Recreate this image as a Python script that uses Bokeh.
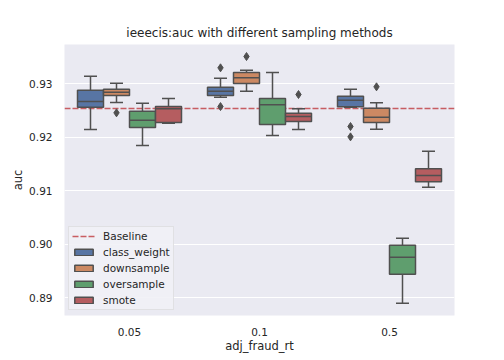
from bokeh.plotting import figure
from bokeh.models import (ColumnDataSource, FactorRange, Range1d, FixedTicker, Legend, LegendItem,
                          NumeralTickFormatter)
from bokeh.transform import dodge
from bokeh.embed import file_html
from bokeh.resources import INLINE

rates = ["0.05", "0.1", "0.5"]
methods = ["class_weight", "downsample", "oversample", "smote"]
colors = ["#5875A4", "#CC8963", "#5F9E6E", "#B55D60"]
baseline = 0.92538

# per-method box statistics, one value per rate
cw_lo = [0.92146, 0.92750, 0.92560]
cw_q1 = [0.92563, 0.92781, 0.92570]
cw_med = [0.92669, 0.92862, 0.92693]
cw_q3 = [0.92880, 0.92937, 0.92768]
cw_hi = [0.93142, 0.93105, 0.92899]

ds_lo = [0.92650, 0.92862, 0.92152]
ds_q1 = [0.92781, 0.93006, 0.92277]
ds_med = [0.92843, 0.93112, 0.92376]
ds_q3 = [0.92899, 0.93211, 0.92544]
ds_hi = [0.93012, 0.93254, 0.92645]

os_lo = [0.91847, 0.92034, 0.88899]
os_q1 = [0.92183, 0.92239, 0.89441]
os_med = [0.92320, 0.92607, 0.89759]
os_q3 = [0.92488, 0.92725, 0.89983]
os_hi = [0.92638, 0.93211, 0.90114]

sm_lo = [0.92264, 0.92146, 0.91068]
sm_q1 = [0.92277, 0.92295, 0.91168]
sm_med = [0.92533, 0.92389, 0.91286]
sm_q3 = [0.92575, 0.92450, 0.91411]
sm_hi = [0.92725, 0.92533, 0.91740]

# outliers
out_rate = ["0.05", "0.1", "0.1", "0.1", "0.1", "0.5", "0.5", "0.5"]
out_method = ["downsample", "class_weight", "class_weight", "downsample", "smote",
              "class_weight", "class_weight", "downsample"]
out_value = [0.92458, 0.93299, 0.92575, 0.93510, 0.92800, 0.92202, 0.92009, 0.92944]

yticks = [0.89, 0.90, 0.91, 0.92, 0.93]

stats = {
    "class_weight": (cw_lo, cw_q1, cw_med, cw_q3, cw_hi),
    "downsample": (ds_lo, ds_q1, ds_med, ds_q3, ds_hi),
    "oversample": (os_lo, os_q1, os_med, os_q3, os_hi),
    "smote": (sm_lo, sm_q1, sm_med, sm_q3, sm_hi),
}
offsets = [-0.3, -0.1, 0.1, 0.3]
box_w = 0.2
cap_half = 0.05
gray = "#505050"
font = "DejaVu Sans"
txt = "#262626"

p = figure(x_range=FactorRange(*rates, range_padding=0), y_range=Range1d(0.8867, 0.93735),
           width=504, height=360, output_backend="svg", toolbar_location=None,
           title="ieeecis:auc with different sampling methods",
           min_border_left=64, min_border_right=50, min_border_top=44, min_border_bottom=45)
p.background_fill_color = "#EAEAF2"
p.border_fill_color = "white"
p.outline_line_color = None
p.xgrid.grid_line_color = None
p.ygrid.grid_line_color = "white"
p.ygrid.grid_line_width = 1.2
p.yaxis.ticker = FixedTicker(ticks=yticks)
p.yaxis.formatter = NumeralTickFormatter(format="0.00")
for ax in (p.xaxis, p.yaxis):
    ax.axis_line_color = None
    ax.major_tick_line_color = None
    ax.minor_tick_line_color = None
    ax.major_label_text_font = font
    ax.major_label_text_font_size = "10.5px"
    ax.major_label_text_color = txt
    ax.axis_label_text_font = font
    ax.axis_label_text_font_size = "11.5px"
    ax.axis_label_text_font_style = "normal"
    ax.axis_label_text_color = txt
p.xaxis.axis_label = "adj_fraud_rt"
p.yaxis.axis_label = "auc"
p.xaxis.major_label_standoff = 6
p.yaxis.major_label_standoff = 6
p.xaxis.axis_label_standoff = 0
p.yaxis.axis_label_standoff = 1
p.title.text_font = font
p.title.text_font_size = "12px"
p.title.text_font_style = "normal"
p.title.text_color = txt
p.title.align = "center"

base_r = p.hspan(y=[baseline], line_color="#C44E52", line_dash="6 2", line_width=1.5, line_alpha=0.9)

box_renderers = []
for m, off, col in zip(methods, offsets, colors):
    lo, q1, med, q3, hi = stats[m]
    src = ColumnDataSource(dict(x=rates, lo=lo, q1=q1, med=med, q3=q3, hi=hi))
    xc = dodge("x", off, range=p.x_range)
    p.segment(x0=xc, y0="q3", x1=xc, y1="hi", source=src, line_color=gray, line_width=1.5)
    p.segment(x0=xc, y0="q1", x1=xc, y1="lo", source=src, line_color=gray, line_width=1.5)
    p.segment(x0=dodge("x", off - cap_half, range=p.x_range), y0="hi",
              x1=dodge("x", off + cap_half, range=p.x_range), y1="hi",
              source=src, line_color=gray, line_width=1.5)
    p.segment(x0=dodge("x", off - cap_half, range=p.x_range), y0="lo",
              x1=dodge("x", off + cap_half, range=p.x_range), y1="lo",
              source=src, line_color=gray, line_width=1.5)
    r = p.vbar(x=xc, width=box_w, top="q3", bottom="q1", source=src,
               fill_color=col, line_color=gray, line_width=1.5)
    box_renderers.append(r)
    p.segment(x0=dodge("x", off - box_w / 2, range=p.x_range), y0="med",
              x1=dodge("x", off + box_w / 2, range=p.x_range), y1="med",
              source=src, line_color=gray, line_width=1.5)

    ox = [rt for rt, mm in zip(out_rate, out_method) if mm == m]
    oy = [v for v, mm in zip(out_value, out_method) if mm == m]
    if ox:
        osrc = ColumnDataSource(dict(x=ox, y=oy))
        p.scatter(x=dodge("x", off, range=p.x_range), y="y", source=osrc, marker="diamond",
                  size=8, fill_color=gray, line_color=gray)

items = [LegendItem(label="Baseline", renderers=[base_r])]
for m, r in zip(methods, box_renderers):
    items.append(LegendItem(label=m, renderers=[r]))
legend = Legend(items=items, location=(4, 5), label_text_font=font,
                label_text_font_size="10.5px", label_text_color=txt,
                glyph_width=23, glyph_height=8, label_height=9, spacing=4,
                padding=3, margin=0, label_standoff=8,
                background_fill_color="#f1f1f6", background_fill_alpha=0.9,
                border_line_color="#d0d0d0", border_line_width=1)
p.add_layout(legend, "center")

open("out.html", "w").write(file_html(p, INLINE))
